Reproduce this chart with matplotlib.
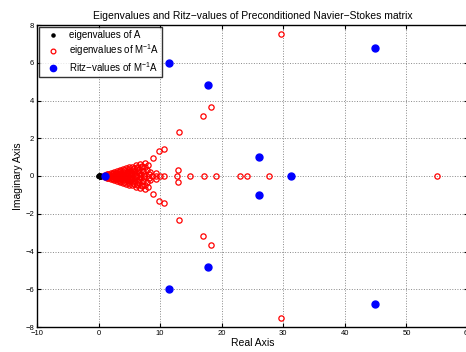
import matplotlib
matplotlib.use("Agg")
import matplotlib.pyplot as plt
import numpy as np

plt.rcParams['font.family'] = ['Liberation Sans', 'DejaVu Sans']
plt.rcParams['mathtext.fontset'] = 'custom'
plt.rcParams['mathtext.rm'] = 'Liberation Sans'

# eigenvalues of A (clustered near origin)
a_re = [-0.1, 0.0, 0.05, 0.1, 0.15, 0.2, 0.25, 0.3, 0.12, 0.18, 0.08, 0.35, 0.4]
a_im = [0.0, 0.0, 0.0, 0.02, -0.02, 0.03, -0.03, 0.0, 0.05, -0.05, 0.0, 0.02, -0.02]

# eigenvalues of M^-1 A (upper half plane + real axis; conjugates mirrored)
m_re = [1.0, 1.5, 2.0, 2.5, 3.0, 3.5, 4.0, 4.5, 5.0, 5.5, 6.1, 6.8, 7.5, 8.8, 9.8, 10.67,
        1.2, 1.8, 2.2, 2.7, 3.2, 3.6, 4.1, 4.3, 4.8, 5.1, 5.4, 5.8, 6.2, 6.5, 7.0, 7.2, 7.8,
        8.2, 9.4, 12.95, 2.9, 3.8, 4.6, 5.6, 6.4, 7.6, 1.6, 2.4, 3.3,
        1.3, 2.1, 2.8, 3.4, 3.7, 4.2, 4.4, 4.9, 5.2, 5.7, 5.9, 6.3, 6.6, 7.1, 7.3, 8.0,
        2.6, 3.5, 4.7, 5.3, 6.0, 6.9, 8.4,
        0.8, 1.5, 2.3, 3.1, 3.9, 4.6, 5.3, 6.0, 6.7, 7.4, 8.6, 9.3, 9.9, 10.7, 12.7, 14.9,
        17.1, 19.0, 22.9, 24.1, 27.6, 55.0,
        13.06, 17.0, 18.26, 29.6]
m_im = [0.05, 0.1, 0.15, 0.2, 0.26, 0.3, 0.35, 0.42, 0.46, 0.5, 0.6, 0.62, 0.71, 0.97, 1.31, 1.42,
        0.02, 0.06, 0.08, 0.12, 0.1, 0.18, 0.22, 0.12, 0.28, 0.15, 0.34, 0.24, 0.4, 0.18, 0.46, 0.26, 0.32,
        0.12, 0.16, 0.3, 0.05, 0.08, 0.2, 0.1, 0.28, 0.5, 0.04, 0.14, 0.2,
        0.08, 0.12, 0.18, 0.24, 0.04, 0.3, 0.06, 0.36, 0.08, 0.4, 0.16, 0.5, 0.36, 0.55, 0.1, 0.58,
        0.06, 0.12, 0.1, 0.22, 0.05, 0.1, 0.2,
        0.0, 0.0, 0.0, 0.0, 0.0, 0.0, 0.0, 0.0, 0.0, 0.0, 0.0, 0.0, 0.0, 0.0, 0.0, 0.0,
        0.0, 0.0, 0.0, 0.0, 0.0, 0.0,
        2.35, 3.2, 3.66, 7.5]

# Ritz values of M^-1 A
r_re = [1.0, 31.2, 26.1, 17.7, 11.5, 44.9]
r_im = [0.0, 0.0, 1.01, 4.81, 5.98, 6.76]

def mirror(re, im):
    re2 = list(re) + [r for r, i in zip(re, im) if i != 0]
    im2 = list(im) + [-i for i in im if i != 0]
    return re2, im2

m_re_all, m_im_all = mirror(m_re, m_im)
r_re_all, r_im_all = mirror(r_re, r_im)

fig = plt.figure(figsize=(4.66, 3.52), dpi=100)
ax = fig.add_axes([37/466, 25/352, 431/466, 302/352])

ax.plot(a_re, a_im, 'k.', markersize=5, label='eigenvalues of A', zorder=3)
ax.plot(m_re_all, m_im_all, 'o', mfc='none', mec='red', markersize=3.8, mew=0.9,
        label=r'eigenvalues of M$^{-1}$A', zorder=2, linestyle='none')
ax.plot(r_re_all, r_im_all, 'o', color='blue', markersize=5, label=r'Ritz$-$values of M$^{-1}$A',
        zorder=4, linestyle='none')

ax.set_xlim(-10, 60)
ax.set_ylim(-8, 8)
ax.set_xticks(np.arange(-10, 61, 10))
ax.set_yticks(np.arange(-8, 9, 2))
ax.set_xticklabels(['\u221210', '0', '10', '20', '30', '40', '50', '60'])
ax.set_yticklabels(['\u22128', '\u22126', '\u22124', '\u22122', '0', '2', '4', '6', '8'])
ax.tick_params(direction='in', labelsize=5.5, length=3, width=0.8, top=True, right=True, pad=2)
ax.grid(True, linestyle=':', color='#888888', linewidth=0.7)
for s in ax.spines.values():
    s.set_linewidth(1.0)

ax.set_title('Eigenvalues and Ritz\u2212values of Preconditioned Navier\u2212Stokes matrix',
             fontsize=7.5, pad=4)
ax.set_xlabel('Real Axis', fontsize=7.5, labelpad=1)
ax.set_ylabel('Imaginary Axis', fontsize=7.5, labelpad=2)

leg = ax.legend(loc='upper left', fontsize=7, frameon=True, fancybox=False, edgecolor='black',
                borderaxespad=0.25, handlelength=2.2, handletextpad=0.5, borderpad=0.3,
                labelspacing=0.2, numpoints=1, markerscale=0.9)
leg.get_frame().set_linewidth(1.0)

fig.savefig('out.png', dpi=100)
